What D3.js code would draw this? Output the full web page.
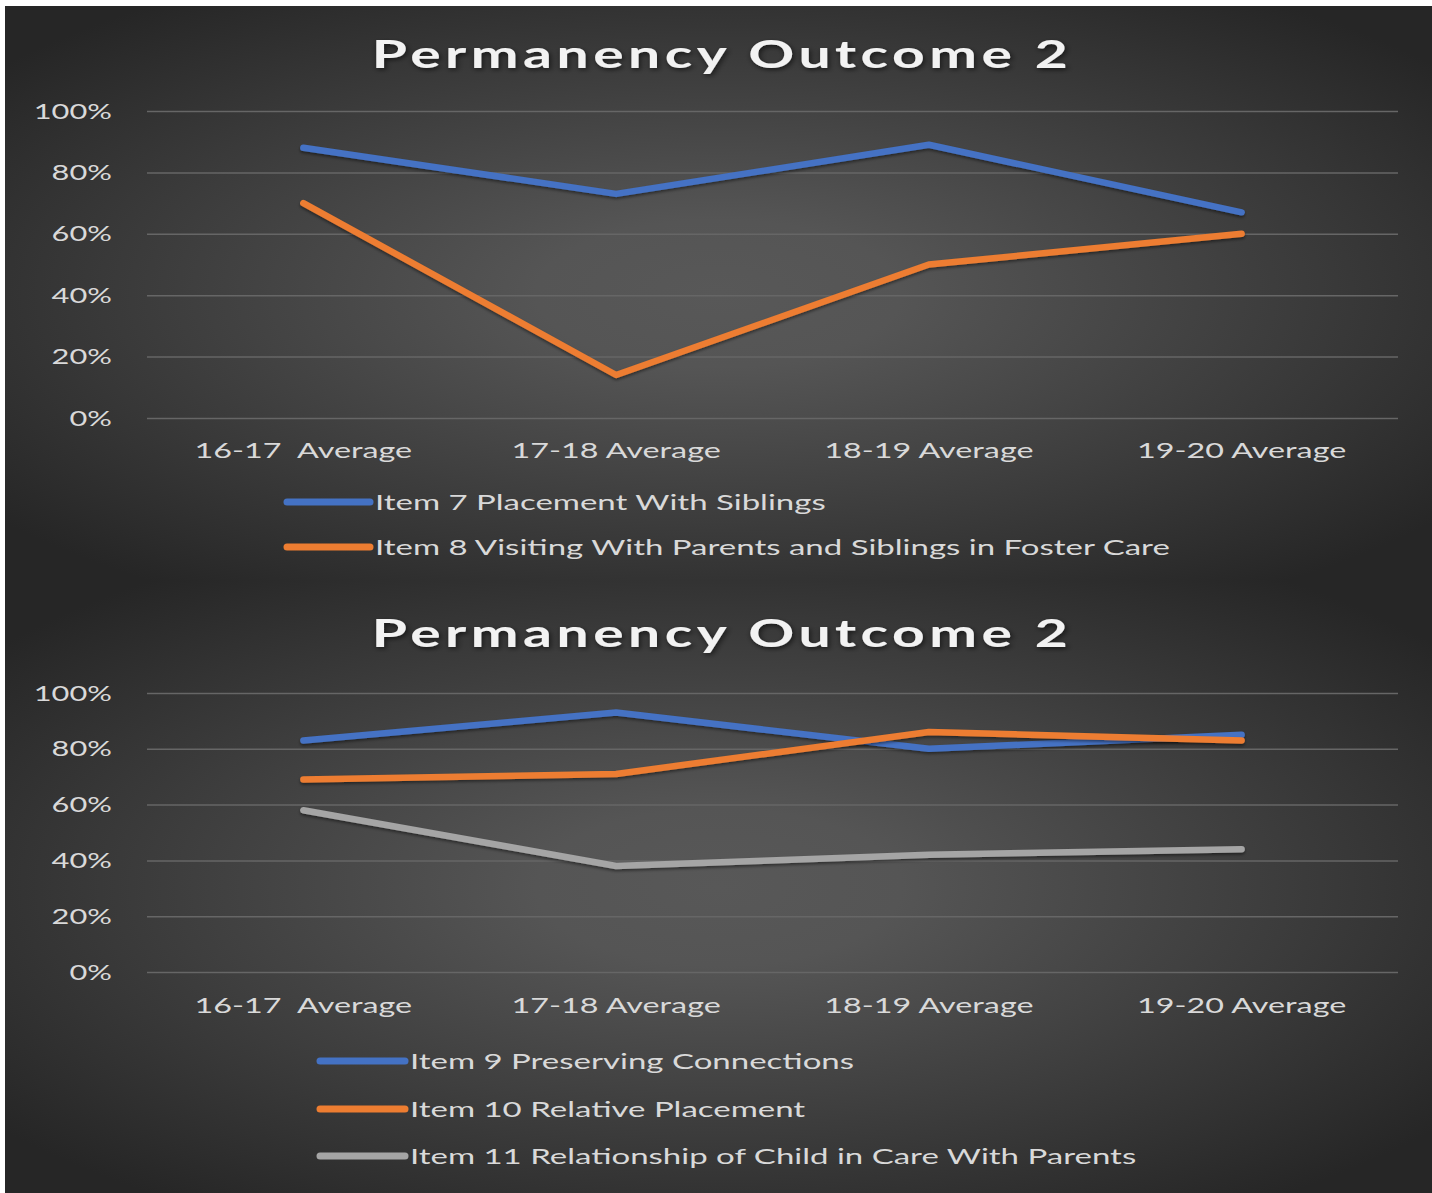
<!DOCTYPE html>
<html>
<head>
<meta charset="utf-8">
<script src="https://cdn.jsdelivr.net/npm/d3@7"></script>
<style>
  body { margin: 0; background: #fff; }
  svg { display: block; }
</style>
</head>
<body>
<svg id="chart"></svg>
<script>
// data
const categories = ["16-17  Average", "17-18 Average", "18-19 Average", "19-20 Average"];
const yTicks = [0, 20, 40, 60, 80, 100];
const item7 = [88, 73, 89, 67];
const item8 = [70, 14, 50, 60];
const item9 = [83, 93, 80, 85];
const item10 = [69, 71, 86, 83];
const item11 = [58, 38, 42, 44];
const titleText = "Permanency Outcome 2";

const BLUE = "#4472c4", ORANGE = "#ed7d31", GRAY = "#a5a5a5";

const W = 1432, H = 1193;
// the text in the picture is horizontally stretched
const sTitle = 1.5, sLegend = 1.5, sXLab = 1.47, sYLab = 1.4;
const fontFam = "Lato, 'Open Sans', sans-serif";

let svg = d3.select("#chart").attr("width", W).attr("height", H);

svg.append("rect").attr("width", W).attr("height", H).attr("fill", "#fff");

let defs = svg.append("defs");
let grad = defs.append("radialGradient")
  .attr("id", "bg")
  .attr("cx", "50%").attr("cy", "50%").attr("r", "64%");
grad.append("stop").attr("offset", "0%").attr("stop-color", "#585858");
grad.append("stop").attr("offset", "20%").attr("stop-color", "#555555");
grad.append("stop").attr("offset", "100%").attr("stop-color", "#262626");

let shadow = defs.append("filter").attr("id", "glow")
  .attr("x", "-10%").attr("y", "-30%").attr("width", "120%").attr("height", "160%");
shadow.append("feDropShadow")
  .attr("dx", 1).attr("dy", 2).attr("stdDeviation", 2)
  .attr("flood-color", "#000").attr("flood-opacity", 0.6);

let lineShadow = defs.append("filter").attr("id", "lshadow")
  .attr("x", "-5%").attr("y", "-20%").attr("width", "110%").attr("height", "140%");
lineShadow.append("feDropShadow")
  .attr("dx", 0).attr("dy", 2).attr("stdDeviation", 1.5)
  .attr("flood-color", "#000").attr("flood-opacity", 0.45);

const panels = [
  {
    box: [5, 6, 1427, 575],
    titleY: 68,
    yRange: [418, 111],
    xLabelY: 458,
    legendX: [287, 370],
    legendY: [502, 547],
    series: [
      { name: "Item 7 Placement With Siblings", values: item7, color: BLUE },
      { name: "Item 8 Visiting With Parents and Siblings in Foster Care", values: item8, color: ORANGE }
    ]
  },
  {
    box: [5, 581, 1427, 612],
    titleY: 647,
    yRange: [972, 693],
    xLabelY: 1013,
    legendX: [320, 405],
    legendY: [1061, 1109, 1156],
    series: [
      { name: "Item 9 Preserving Connections", values: item9, color: BLUE },
      { name: "Item 10 Relative Placement", values: item10, color: ORANGE },
      { name: "Item 11 Relationship of Child in Care With Parents", values: item11, color: GRAY }
    ]
  }
];

const plotLeft = 147, plotRight = 1398;

panels.forEach(function (p, pi) {
  let g = svg.append("g");

  g.append("rect")
    .attr("x", p.box[0]).attr("y", p.box[1])
    .attr("width", p.box[2]).attr("height", p.box[3])
    .attr("fill", "url(#bg)");

  // title
  g.append("text")
    .attr("x", 722 / sTitle).attr("y", p.titleY)
    .attr("transform", `scale(${sTitle},1)`)
    .attr("text-anchor", "middle")
    .attr("font-family", fontFam)
    .attr("font-weight", "bold")
    .attr("font-size", 38)
    .attr("letter-spacing", 3)
    .attr("fill", "#f2f2f2")
    .attr("filter", "url(#glow)")
    .text(titleText);

  let x = d3.scaleBand().domain(categories).range([plotLeft, plotRight]);
  let y = d3.scaleLinear().domain([0, 100]).range(p.yRange);

  // y axis + gridlines
  let yAxis = g.append("g")
    .attr("transform", `translate(${plotLeft},0)`)
    .call(d3.axisLeft(y)
      .tickValues(yTicks)
      .tickSizeInner(-(plotRight - plotLeft))
      .tickSizeOuter(0)
      .tickPadding(35)
      .tickFormat(d => d + "%"));
  yAxis.select(".domain").remove();
  yAxis.selectAll("line").attr("stroke", "#666666").attr("stroke-width", 1.5);
  yAxis.selectAll("text")
    .attr("font-family", fontFam)
    .attr("font-size", 22)
    .attr("fill", "#d9d9d9")
    .attr("x", -35 / sYLab)
    .attr("transform", `scale(${sYLab},1)`);

  // x axis labels
  let xAxis = g.append("g")
    .attr("transform", `translate(0,${p.yRange[0]})`)
    .call(d3.axisBottom(x).tickSize(0));
  xAxis.select(".domain").remove();
  xAxis.selectAll("text")
    .attr("font-family", fontFam)
    .attr("font-size", 22)
    .attr("fill", "#d9d9d9")
    .attr("dy", 0)
    .attr("y", p.xLabelY - p.yRange[0])
    .attr("transform", `scale(${sXLab},1)`)
    .style("white-space", "pre");

  let line = d3.line()
    .x((d, i) => x(categories[i]) + x.bandwidth() / 2)
    .y(d => y(d));

  p.series.forEach(function (s) {
    g.append("path")
      .datum(s.values)
      .attr("d", line)
      .attr("fill", "none")
      .attr("stroke", s.color)
      .attr("stroke-width", 6.5)
      .attr("stroke-linecap", "round")
      .attr("stroke-linejoin", "round")
      .attr("filter", "url(#lshadow)");
  });

  // legend
  p.series.forEach(function (s, i) {
    let ly = p.legendY[i];
    g.append("line")
      .attr("x1", p.legendX[0]).attr("x2", p.legendX[1])
      .attr("y1", ly).attr("y2", ly)
      .attr("stroke", s.color)
      .attr("stroke-width", 7)
      .attr("stroke-linecap", "round");
    g.append("text")
      .attr("x", (p.legendX[1] + 5) / sLegend)
      .attr("y", ly + 8)
      .attr("transform", `scale(${sLegend},1)`)
      .attr("font-family", fontFam)
      .attr("font-size", 22)
      .attr("fill", "#d9d9d9")
      .text(s.name);
  });
});
</script>
</body>
</html>
